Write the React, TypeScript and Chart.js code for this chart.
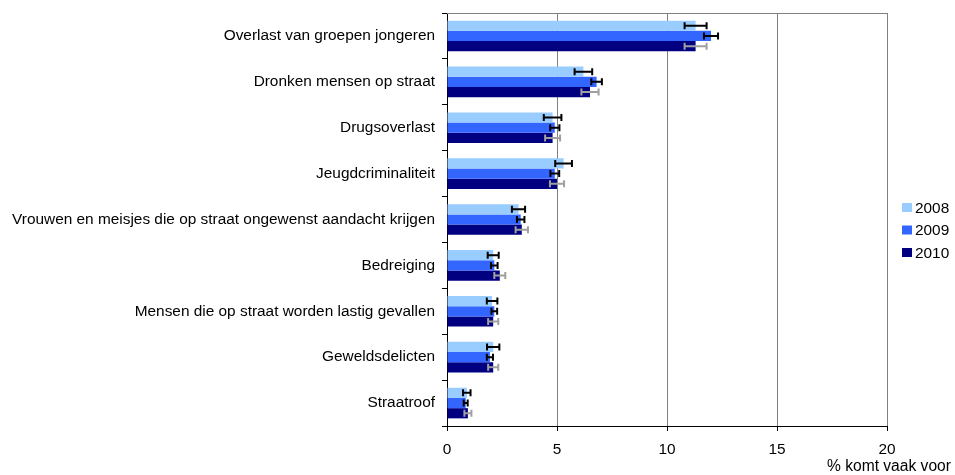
import React, { useEffect, useRef } from "react";
import { Chart, registerables } from "chart.js";

Chart.register(...registerables);

const categories = [
  "Overlast van groepen jongeren",
  "Dronken mensen op straat",
  "Drugsoverlast",
  "Jeugdcriminaliteit",
  "Vrouwen en meisjes die op straat ongewenst aandacht krijgen",
  "Bedreiging",
  "Mensen die op straat worden lastig gevallen",
  "Geweldsdelicten",
  "Straatroof",
];

const seriesNames = ["2008", "2009", "2010"];

const values2008 = [11.3, 6.2, 4.8, 5.3, 3.25, 2.1, 2.05, 2.1, 0.9];
const values2009 = [12.0, 6.8, 4.9, 4.9, 3.35, 2.15, 2.15, 1.95, 0.85];
const values2010 = [11.3, 6.5, 4.8, 5.0, 3.4, 2.4, 2.1, 2.1, 0.95];

const errors2008 = [0.5, 0.4, 0.4, 0.38, 0.3, 0.25, 0.24, 0.28, 0.17];
const errors2009 = [0.32, 0.24, 0.21, 0.2, 0.17, 0.15, 0.13, 0.14, 0.09];
const errors2010 = [0.5, 0.39, 0.34, 0.32, 0.28, 0.25, 0.23, 0.23, 0.16];

const xTicks = [0, 5, 10, 15, 20];

const colors = ["#99CCFF", "#3366FF", "#000080"];
const errColors = ["#000000", "#000000", "#A0A0A0"];
const FONT = "'Liberation Sans', Arial, sans-serif";
const FS = 15.4;

const errorBarPlugin = {
  id: "errorBars",
  afterDatasetsDraw(chart: any) {
    const ctx = chart.ctx;
    const xs = chart.scales.x;
    const errs = [errors2008, errors2009, errors2010];
    chart.data.datasets.forEach((ds: any, i: number) => {
      const meta = chart.getDatasetMeta(i);
      ctx.save();
      ctx.strokeStyle = errColors[i];
      ctx.lineWidth = 2;
      meta.data.forEach((el: any, j: number) => {
        const v = ds.data[j];
        const e = errs[i][j];
        const x0 = xs.getPixelForValue(v - e);
        const x1 = xs.getPixelForValue(v + e);
        const y = el.y;
        ctx.beginPath();
        ctx.moveTo(x0, y);
        ctx.lineTo(x1, y);
        ctx.moveTo(x0, y - 3.5);
        ctx.lineTo(x0, y + 3.5);
        ctx.moveTo(x1, y - 3.5);
        ctx.lineTo(x1, y + 3.5);
        ctx.stroke();
      });
      ctx.restore();
    });
  },
  afterDraw(chart: any) {
    const ctx = chart.ctx;
    const a = chart.chartArea;
    ctx.save();
    ctx.strokeStyle = "#808080";
    ctx.lineWidth = 1;
    ctx.beginPath();
    ctx.moveTo(a.left, a.top + 0.5);
    ctx.lineTo(a.right, a.top + 0.5);
    ctx.stroke();
    ctx.font = `${FS}px ${FONT}`;
    ctx.textBaseline = "middle";
    ctx.textAlign = "left";
    seriesNames.forEach((name, i) => {
      const cy = 207.5 + i * 22.5;
      ctx.fillStyle = colors[i];
      ctx.fillRect(902, cy - 4.5, 10, 9);
      ctx.fillStyle = "#000000";
      ctx.fillText(name, 915, cy + 1);
    });
    ctx.font = `15.6px ${FONT}`;
    ctx.fillText("% komt vaak voor", 827, 467);
    ctx.restore();
  },
};

export default function App() {
  const ref = useRef<HTMLCanvasElement>(null);
  useEffect(() => {
    if (!ref.current) return;
    const chart = new Chart(ref.current, {
      type: "bar",
      data: {
        labels: categories,
        datasets: [values2008, values2009, values2010].map((d, i) => ({
          label: seriesNames[i],
          data: d,
          backgroundColor: colors[i],
          borderWidth: 0,
          barPercentage: 1.0,
          categoryPercentage: 0.667,
        })),
      },
      options: {
        indexAxis: "y",
        responsive: false,
        animation: false,
        layout: { padding: { top: 13, right: 68, bottom: 0, left: 0 } },
        plugins: { legend: { display: false }, tooltip: { enabled: false } },
        scales: {
          x: {
            min: 0,
            max: 20,
            afterBuildTicks(scale: any) {
              scale.ticks = xTicks.map((v) => ({ value: v }));
            },
            afterFit(scale: any) {
              scale.height = 49;
              scale.paddingLeft = 0;
              scale.paddingRight = 0;
            },
            grid: {
              color: "#808080",
              tickColor: "#000000",
              tickLength: 5,
              lineWidth: 1,
            },
            border: { color: "#000000", width: 1 },
            ticks: {
              color: "#000000",
              font: { family: FONT, size: FS },
              padding: 10,
              maxRotation: 0,
            },
          },
          y: {
            afterFit(scale: any) {
              scale.width = 447;
              scale.paddingTop = 0;
              scale.paddingBottom = 0;
            },
            grid: {
              offset: true,
              drawOnChartArea: false,
              drawTicks: true,
              tickLength: 5,
              tickColor: "#000000",
            },
            border: { color: "#000000", width: 1 },
            ticks: {
              color: "#000000",
              font: { family: FONT, size: FS },
              padding: 7,
              autoSkip: false,
            },
          },
        },
      },
      plugins: [errorBarPlugin],
    } as any);
    return () => chart.destroy();
  }, []);
  return (
    <div style={{ position: "fixed", left: 0, top: 0, width: 955, height: 475, background: "#fff" }}>
      <canvas ref={ref} width={955} height={475} />
    </div>
  );
}
